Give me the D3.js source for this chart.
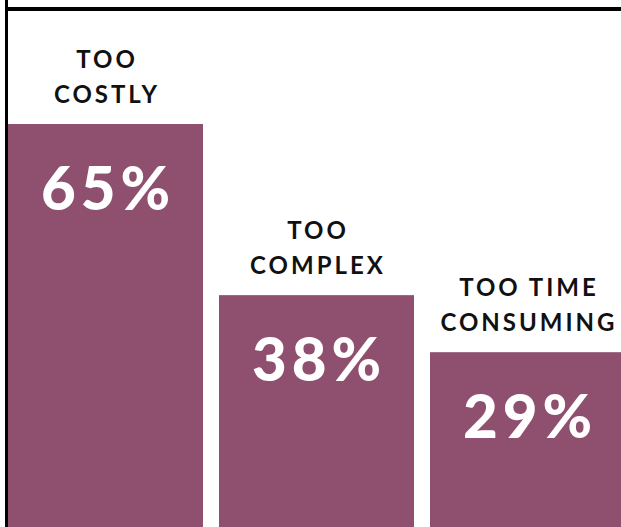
<!DOCTYPE html>
<html>
<head>
<meta charset="utf-8">
<script src="https://cdn.jsdelivr.net/npm/d3@7"></script>
<style>
  html, body { margin: 0; padding: 0; background: #fff; }
  svg { display: block; }
</style>
</head>
<body>
<svg id="chart" width="621" height="527"></svg>
<script>
// Reasons cited, share of respondents (%)
const categories = ["TOO COSTLY", "TOO COMPLEX", "TOO TIME CONSUMING"];
const labelLines = [["TOO", "COSTLY"], ["TOO", "COMPLEX"], ["TOO TIME", "CONSUMING"]];
const values = [65, 38, 29];
const valueLabels = ["65%", "38%", "29%"];

const W = 621, H = 527;
const barColor = "#8f506f";
const svg = d3.select("#chart");

// Last bar runs past the right edge of the frame
const x = d3.scaleBand()
  .domain(categories)
  .range([8, 625])
  .paddingInner(16 / 211)
  .paddingOuter(0);

const y = d3.scaleLinear()
  .domain([0, 65])
  .range([536, 124]);

// Bars
svg.append("g").selectAll("rect")
  .data(categories)
  .join("rect")
  .attr("x", d => x(d))
  .attr("y", (d, i) => y(values[i]))
  .attr("width", x.bandwidth())
  .attr("height", (d, i) => y(0) - y(values[i]))
  .attr("fill", barColor);

// Category labels above bars
const lab = svg.append("g")
  .attr("font-family", "Lato, 'Open Sans', sans-serif")
  .attr("font-weight", 700)
  .attr("font-size", 24)
  .attr("letter-spacing", 3)
  .attr("fill", "#111")
  .attr("text-anchor", "middle");

categories.forEach((c, i) => {
  const lines = labelLines[i];
  lines.forEach((t, j) => {
    lab.append("text")
      .attr("x", x(c) + x.bandwidth() / 2 + 1.5)
      .attr("y", y(values[i]) - 21 - (lines.length - 1 - j) * 35)
      .text(t);
  });
});

// Value labels inside bars
svg.append("g")
  .attr("font-family", "Lato, 'Open Sans', sans-serif")
  .attr("font-weight", 900)
  .attr("font-size", 60)
  .attr("letter-spacing", 5)
  .attr("fill", "#fff")
  .attr("text-anchor", "middle")
  .selectAll("text")
  .data(categories)
  .join("text")
  .attr("x", d => x(d) + x.bandwidth() / 2 + 2.5)
  .attr("y", (d, i) => y(values[i]) + 86)
  .text((d, i) => valueLabels[i]);

// Frame lines
svg.append("line")
  .attr("x1", 5).attr("x2", W)
  .attr("y1", 9).attr("y2", 9)
  .attr("stroke", "#000").attr("stroke-width", 4);
svg.append("line")
  .attr("x1", 6.5).attr("x2", 6.5)
  .attr("y1", 0).attr("y2", H)
  .attr("stroke", "#000").attr("stroke-width", 3);
</script>
</body>
</html>
